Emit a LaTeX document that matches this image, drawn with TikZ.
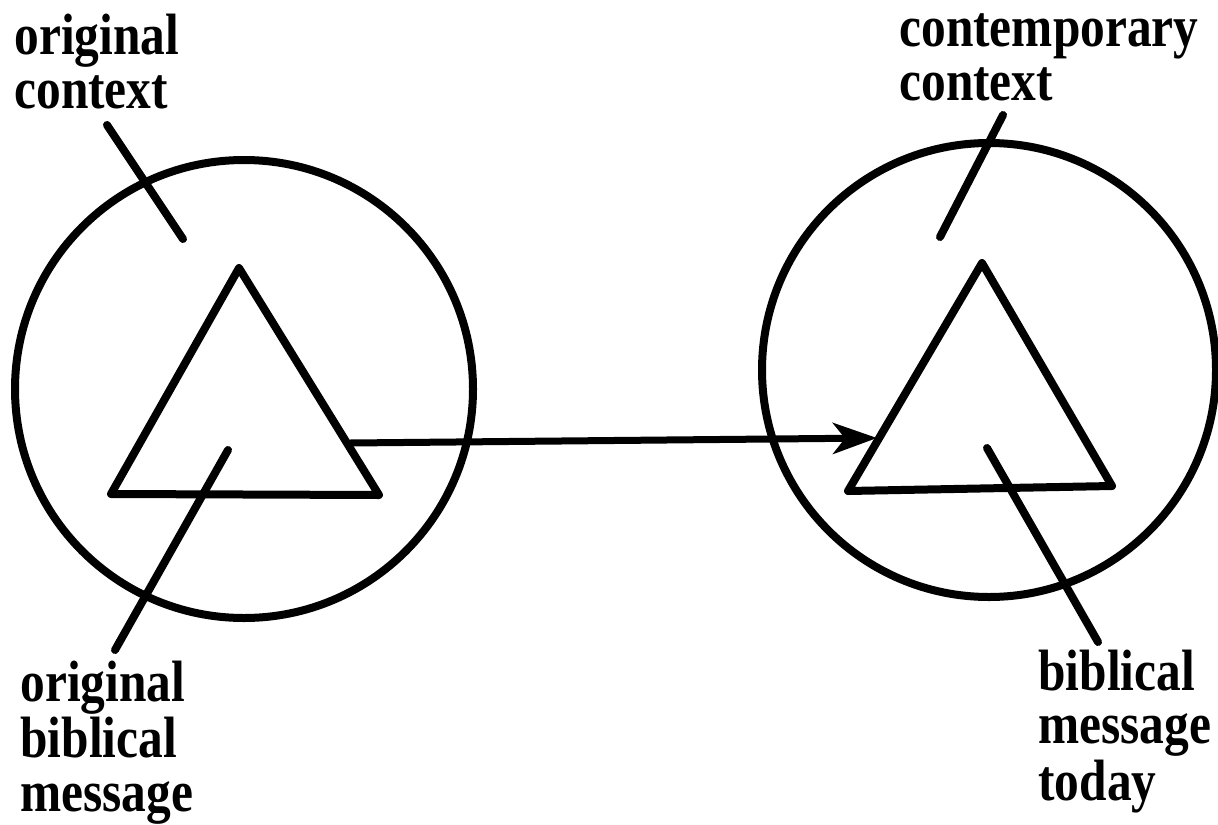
\documentclass[tikz,border=0pt]{standalone}
\usepackage{fontspec}
\usepackage{graphicx}
\setmainfont{Liberation Serif}
\usetikzlibrary{arrows.meta}
\newcommand{\lbltext}[1]{\scalebox{1}[1.18]{\begin{tabular}[t]{@{}l@{}}#1\end{tabular}}}
\tikzset{
  ring/.style={circle, draw, line width=4pt, inner sep=0pt},
  tri/.style={line width=4pt, line join=round},
  leader/.style={line width=4pt, line cap=round},
  flow/.style={line width=3.5pt, -{Stealth[length=22pt, width=15.5pt, inset=6pt]}},
  lbl/.style={inner sep=0pt, anchor=base west, font=\fontsize{24.7pt}{22.7pt}\selectfont\bfseries}
}
\begin{document}
\begin{tikzpicture}[x=0.5pt, y=-0.5pt]
\useasboundingbox (0,0) rectangle (1218,824);
% circles
\node[ring, minimum size=229pt] (lcirc) at (244,389) {};
\node[ring, minimum size=227pt] (rcirc) at (989,370) {};
% triangles
\coordinate (lta) at (239,268);
\coordinate (ltb) at (111,494);
\coordinate (ltc) at (379,495);
\draw[tri] (lta) -- (ltb) -- (ltc) -- cycle;
\coordinate (rta) at (982,263);
\coordinate (rtb) at (848,491);
\coordinate (rtc) at (1112,486);
\draw[tri] (rta) -- (rtb) -- (rtc) -- cycle;
% arrow
\coordinate (as) at (350,443);
\coordinate (ae) at (877,438);
\draw[flow] (as) -- (ae);
% labels
\node[lbl] (oc) at (14,55) {\lbltext{original\\context}};
\node[lbl] (cc) at (899,47) {\lbltext{contemporary\\context}};
\node[lbl] (obm) at (20,701) {\lbltext{original\\biblical\\message}};
\node[lbl] (bmt) at (1038,690) {\lbltext{biblical\\message\\today}};
% leader lines
\coordinate (oc1) at (107,125); \coordinate (oc2) at (183,239);
\coordinate (cc1) at (1003,115); \coordinate (cc2) at (940,237);
\coordinate (ob1) at (228,450); \coordinate (ob2) at (115,650);
\coordinate (bm1) at (987,448); \coordinate (bm2) at (1098,642);
\draw[leader] (oc1) -- (oc2);
\draw[leader] (cc1) -- (cc2);
\draw[leader] (ob1) -- (ob2);
\draw[leader] (bm1) -- (bm2);
\end{tikzpicture}
\end{document}
